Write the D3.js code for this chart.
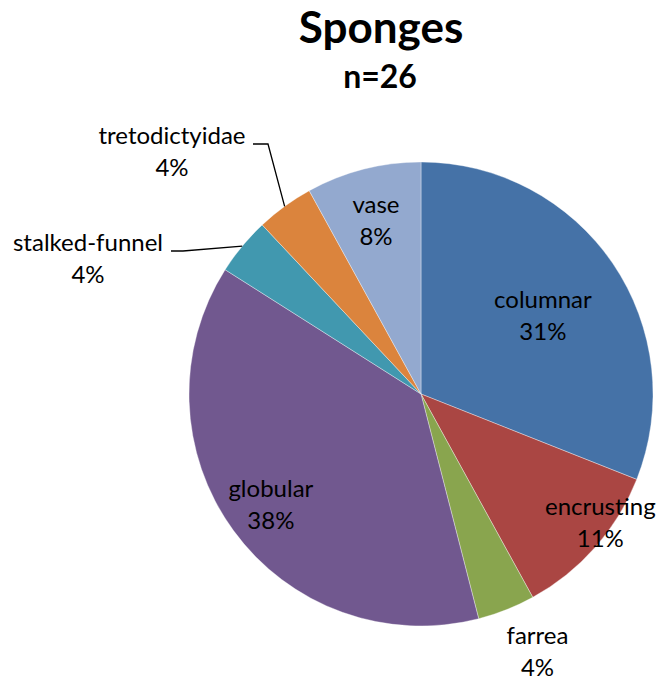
<!DOCTYPE html>
<html>
<head>
<meta charset="utf-8">
<script src="https://cdn.jsdelivr.net/npm/d3@7/dist/d3.min.js"></script>
<style>
  html, body { margin: 0; padding: 0; background: #fff; }
  svg { display: block; }
  text { font-family: Lato, "Open Sans", sans-serif; fill: #000; }
</style>
</head>
<body>
<svg id="chart" width="656" height="681"></svg>
<script>
// Sponge growth forms, share of specimens (%), n = 26
const categories = ["columnar", "encrusting", "farrea", "globular", "stalked-funnel", "tretodictyidae", "vase"];
const percents   = [31, 11, 4, 38, 4, 4, 8];
const colors     = ["#4572A7", "#AA4643", "#89A54E", "#71588F", "#4198AF", "#DB843D", "#93A9CF"];
const titleText  = "Sponges";
const subtitle   = "n=26";

const W = 656, H = 681;
const cx = 421, cy = 394, R = 232;
const svg = d3.select("#chart");

svg.append("text").attr("x", 381).attr("y", 43)
  .attr("text-anchor", "middle").attr("font-size", 44).attr("font-weight", "bold")
  .text(titleText);
svg.append("text").attr("x", 380).attr("y", 88)
  .attr("text-anchor", "middle").attr("font-size", 32).attr("font-weight", "bold")
  .text(subtitle);

const data = categories.map((c, i) => ({ name: c, value: percents[i], color: colors[i] }));
const pie = d3.pie().value(d => d.value).sort(null);
const arcs = pie(data);
const arc = d3.arc().innerRadius(0).outerRadius(R);

const g = svg.append("g").attr("transform", `translate(${cx},${cy})`);
g.selectAll("path").data(arcs).join("path")
  .attr("d", arc)
  .attr("fill", d => d.data.color)
  .attr("stroke", "#ffffff").attr("stroke-opacity", 0.6).attr("stroke-width", 0.6);

// label placement: radial distance (fraction of R) plus nudges; callouts for thin slices
const place = {
  "columnar":       { k: 0.63, dx: 1,   dy: 2 },
  "encrusting":     { k: 0.95, dx: 14,  dy: -19 },
  "farrea":         { k: 1.20, dx: 14,  dy: -3 },
  "globular":       { k: 0.80, dx: 0,   dy: 0 },
  "vase":           { k: 0.78, dx: 0,   dy: 0 },
  "stalked-funnel": { callout: true, elbow: [183, 251], end: 171, lx: 88,  ly: 251 },
  "tretodictyidae": { callout: true, elbow: [268, 144], end: 253, lx: 172, ly: 144 }
};

const FS = 24, LH = 32;

arcs.forEach(a => {
  const p = place[a.data.name];
  const mid = (a.startAngle + a.endAngle) / 2;
  let x, y;
  if (p.callout) {
    const ax = cx + R * Math.sin(mid), ay = cy - R * Math.cos(mid);
    svg.append("polyline")
      .attr("points", `${ax},${ay} ${p.elbow[0]},${p.elbow[1]} ${p.end},${p.elbow[1]}`)
      .attr("fill", "none").attr("stroke", "#000").attr("stroke-width", 1.3);
    x = p.lx; y = p.ly;
  } else {
    x = cx + p.k * R * Math.sin(mid) + p.dx;
    y = cy - p.k * R * Math.cos(mid) + p.dy - 6;
  }
  const t = svg.append("text").attr("text-anchor", "middle").attr("font-size", FS);
  t.append("tspan").attr("x", x).attr("y", y).text(a.data.name);
  t.append("tspan").attr("x", x).attr("y", y + LH).text(a.data.value + "%");
});
</script>
</body>
</html>
